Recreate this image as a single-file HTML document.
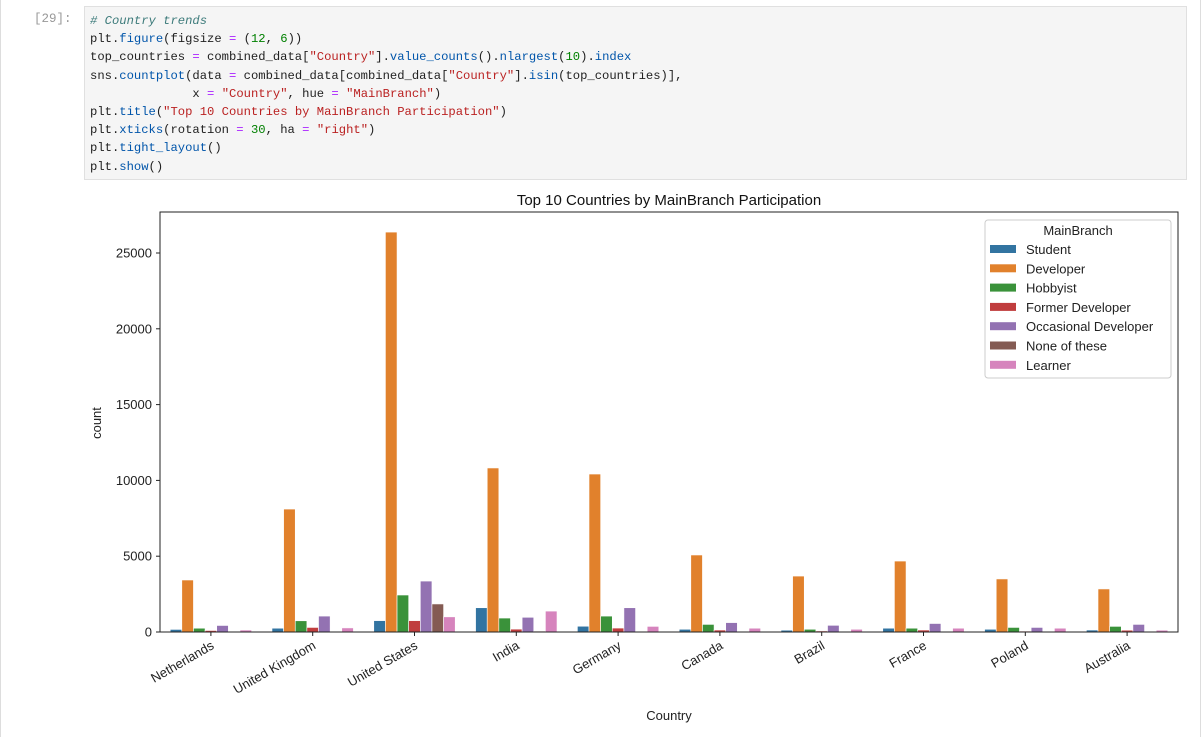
<!DOCTYPE html>
<html><head><meta charset="utf-8"><style>
body{margin:0;width:1201px;height:737px;background:#fff;overflow:hidden;position:relative;font-family:"Liberation Sans",sans-serif}
.outer{position:absolute;left:0;top:0;width:1199px;height:737px;border-left:1px solid #ddd;border-right:1px solid #ddd}
.prompt{position:absolute;left:34px;top:12px;font:12.5px "Liberation Mono",monospace;color:#999}
.cell{position:absolute;left:84px;top:6px;width:1101px;height:172px;background:#f5f5f5;border:1px solid #e0e0e0}
pre{margin:0;position:absolute;left:5px;top:5px;font:12.2px/18.2px "Liberation Mono",monospace;color:#212121}
.c{color:#3d7b7b;font-style:italic}.s{color:#ba2121}.n{color:#008000}.o{color:#aa22ff}.f{color:#0055aa}
svg{position:absolute;left:0;top:0}
</style></head><body>
<div class="outer"></div>
<div class="prompt">[29]:</div>
<div class="cell"><pre><span class="c"># Country trends</span>
plt.<span class="f">figure</span>(figsize <span class="o">=</span> (<span class="n">12</span>, <span class="n">6</span>))
top_countries <span class="o">=</span> combined_data[<span class="s">"Country"</span>].<span class="f">value_counts</span>().<span class="f">nlargest</span>(<span class="n">10</span>).<span class="f">index</span>
sns.<span class="f">countplot</span>(data <span class="o">=</span> combined_data[combined_data[<span class="s">"Country"</span>].<span class="f">isin</span>(top_countries)],
              x <span class="o">=</span> <span class="s">"Country"</span>, hue <span class="o">=</span> <span class="s">"MainBranch"</span>)
plt.<span class="f">title</span>(<span class="s">"Top 10 Countries by MainBranch Participation"</span>)
plt.<span class="f">xticks</span>(rotation <span class="o">=</span> <span class="n">30</span>, ha <span class="o">=</span> <span class="s">"right"</span>)
plt.<span class="f">tight_layout</span>()
plt.<span class="f">show</span>()</pre></div>
<svg id="chart" width="1201" height="737" font-family="Liberation Sans, sans-serif"></svg>
<script>
const countries=["Netherlands","United Kingdom","United States","India","Germany","Canada","Brazil","France","Poland","Australia"];
const branches=["Student","Developer","Hobbyist","Former Developer","Occasional Developer","None of these","Learner"];
const colors=["#3274a1","#e1812c","#3a923a","#c03d3e","#9372b2","#845b53","#d684bd"];
const student=[170,250,750,1600,380,180,120,250,180,130];
const developer=[3430,8110,26380,10820,10420,5080,3690,4680,3500,2840];
const hobbyist=[250,740,2440,920,1050,500,180,250,300,370];
const formerDev=[100,300,750,190,260,130,70,130,60,120];
const occasional=[430,1050,3360,970,1600,620,440,560,300,500];
const noneOfThese=[0,0,1850,60,0,0,0,0,0,0];
const learner=[130,270,1000,1380,370,250,180,250,250,120];
const series=[student,developer,hobbyist,formerDev,occasional,noneOfThese,learner];
const yTicks=[0,5000,10000,15000,20000,25000];
const L=160,R=1178,T=212,B=632;
const y=v=>B-v*(379/25000);
const bw=(R-L)/countries.length;
const xc=i=>L+bw*(i+0.5);
const svg=document.getElementById('chart');
const NS='http://www.w3.org/2000/svg';
function mk(t,a,txt){const e=document.createElementNS(NS,t);for(const k in a)e.setAttribute(k,a[k]);if(txt!=null)e.textContent=txt;svg.appendChild(e);return e;}
const barW=bw*0.8/branches.length;
series.forEach((s,j)=>s.forEach((v,i)=>{
 const x=xc(i)-bw*0.4+j*barW;
 const r=mk('rect',{x:x,y:y(v),width:barW,height:B-y(v),fill:colors[j],stroke:'#fff','stroke-width':0.6});
 
 
}));
const ax=mk('rect',{x:L,y:T,width:R-L,height:B-T,fill:'none',stroke:'#222','stroke-width':1});


yTicks.forEach(t=>{
 const l=mk('line',{x1:L-4,x2:L,y1:y(t),y2:y(t),stroke:'#222'});
 
 
 const tx=mk('text',{x:L-8,y:y(t)+4.5,'text-anchor':'end','font-size':13,fill:'#222'},t);
 
 
});
countries.forEach((c,i)=>{
 const l=mk('line',{x1:xc(i),x2:xc(i),y1:B,y2:B+4,stroke:'#222'});
 
 
 const tx=mk('text',{x:xc(i)+4,y:B+16,'text-anchor':'end','font-size':13,fill:'#222',transform:`rotate(-30 ${xc(i)+4} ${B+16})`},c);
 
 
});
let e=mk('text',{x:(L+R)/2,y:205,'text-anchor':'middle','font-size':15,fill:'#111'},'Top 10 Countries by MainBranch Participation');


e=mk('text',{x:669,y:720,'text-anchor':'middle','font-size':13,fill:'#222'},'Country');


e=mk('text',{x:101,y:423,'text-anchor':'middle','font-size':13,fill:'#222',transform:'rotate(-90 101 423)'},'count');


e=mk('rect',{x:985,y:220,width:186,height:158,rx:3,fill:'#fff','fill-opacity':0.8,stroke:'#ccc'});


e=mk('text',{x:1078,y:235,'text-anchor':'middle','font-size':13,fill:'#222'},'MainBranch');


branches.forEach((b,j)=>{
 const yy=249+j*19.3;
 const r=mk('rect',{x:990,y:yy-4,width:26,height:8,fill:colors[j]});
 
 
 const t=mk('text',{x:1026,y:yy+5,'font-size':13,fill:'#222'},b);
 
 
});
</script>
</body></html>
